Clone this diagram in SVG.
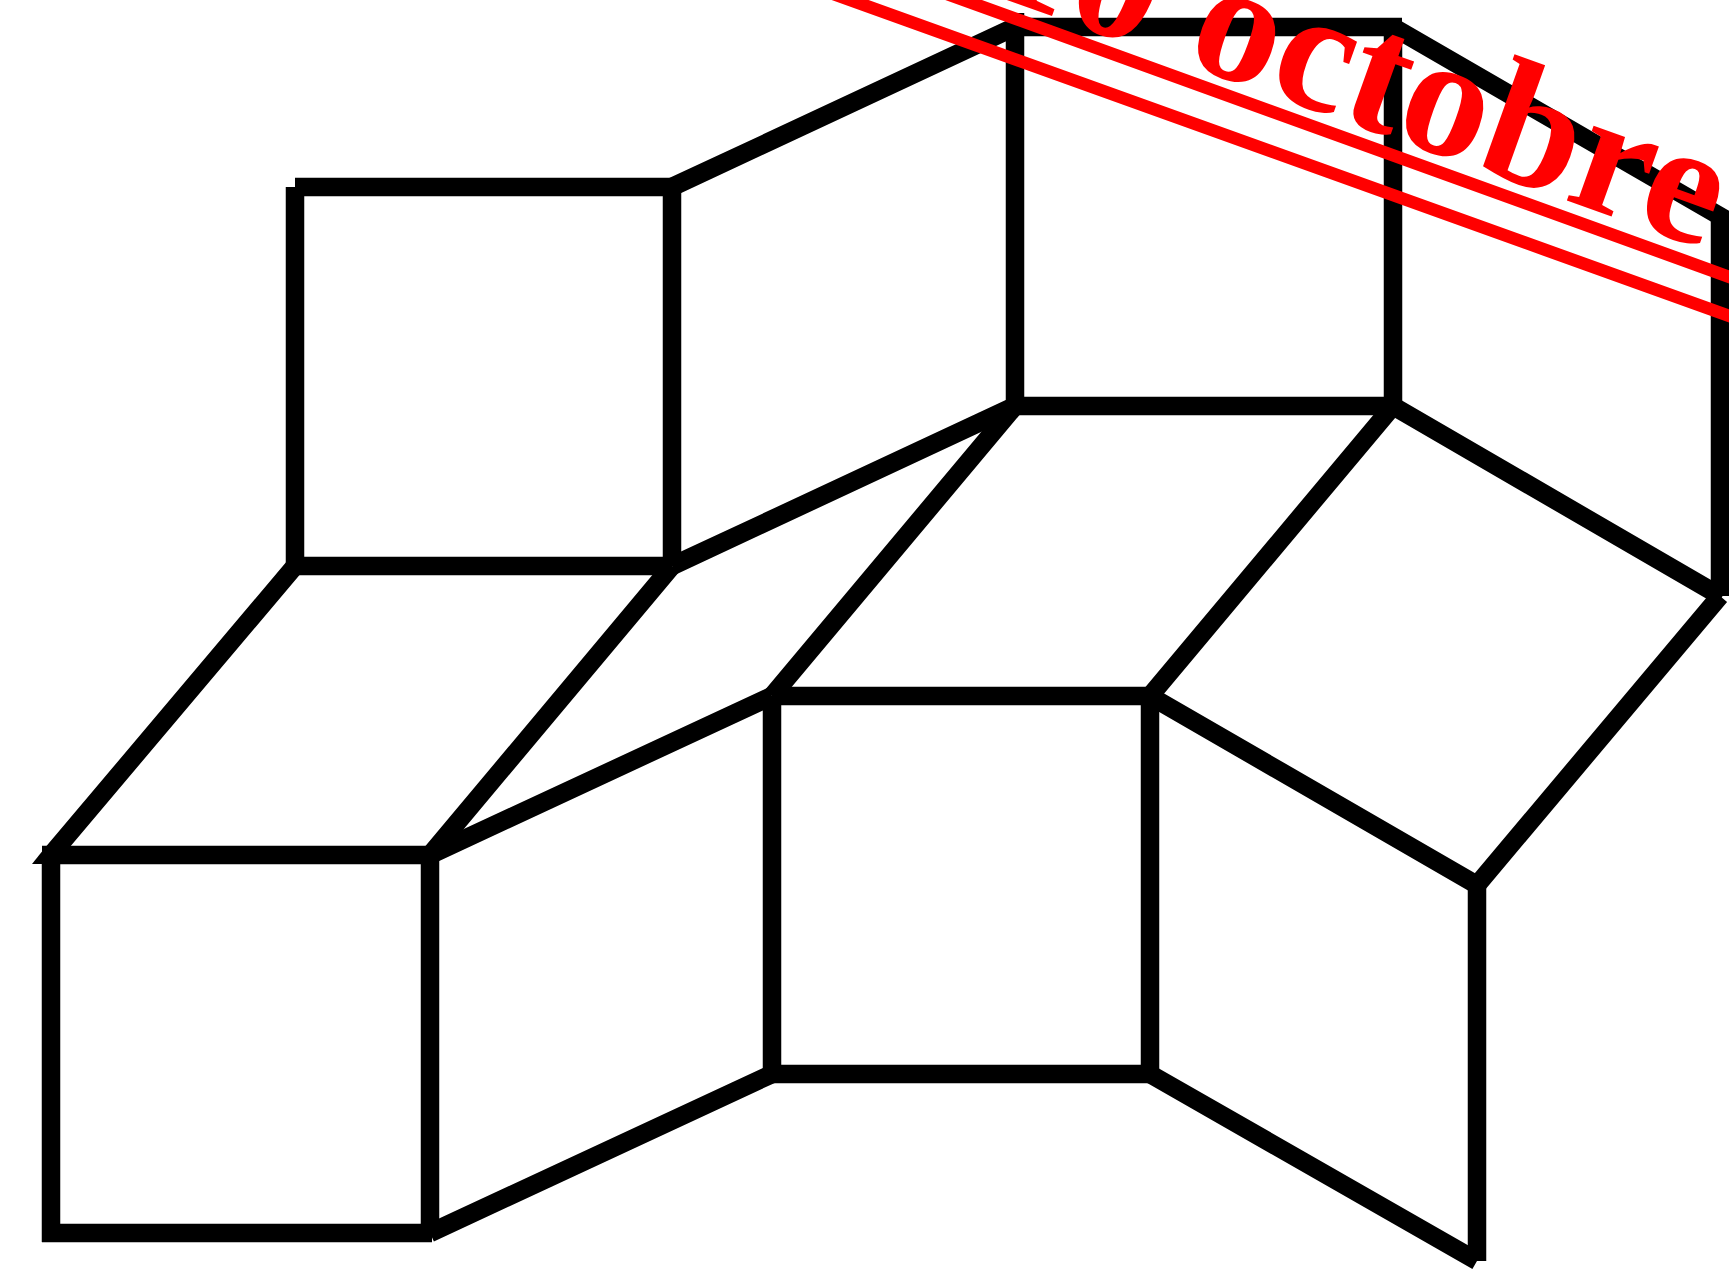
<svg xmlns="http://www.w3.org/2000/svg" width="1729" height="1271" viewBox="0 0 1729 1271">
<style>
.e{stroke:#000;stroke-width:18.5;fill:none;stroke-linecap:butt}
.r{stroke:#f00;stroke-width:12.5;fill:none}
.t{fill:#f00;font-family:"Liberation Serif",serif;font-weight:bold;font-size:173px}
</style>
<rect width="1729" height="1271" fill="#fff"/>
<g id="connectors">
<path class="e" d="M295 187V566M295 187H681M672 187V566M295 566H672"/>
<path class="e" d="M1015 13V406M1006 27H1402M1393 27V406M1015 406H1393"/>
<path class="e" d="M772 696V1074M772 696H1150M1150 696V1074M772 1074H1150"/>
<path class="e" d="M51 855V1242M42 855H430M430 855V1233M42 1233H432"/>
<path class="e" d="M1720 216V596M1477 885V1261"/>
<path class="e" d="M51 855L295 566M430 855L672 566M772 696L1015 406M1150 696L1393 406M1477 885L1720 596"/>
<path d="M32 864L51 864V846L44 849Z" fill="#000"/>
<path class="e" d="M430 1233L772 1074M430 855L772 696M672 187L1015 27M672 566L1015 406"/>
<path class="e" d="M1150 1074L1477 1261M1150 696L1477 885M1393 406L1722 597M1393 27L1737 226"/>
</g>
<g id="label">
<text class="t" transform="translate(979 -10) rotate(19.7)">10 octobre</text>
<path class="r" d="M800 -18L1760 327M900 -23L1760 288"/>
</g>
</svg>
